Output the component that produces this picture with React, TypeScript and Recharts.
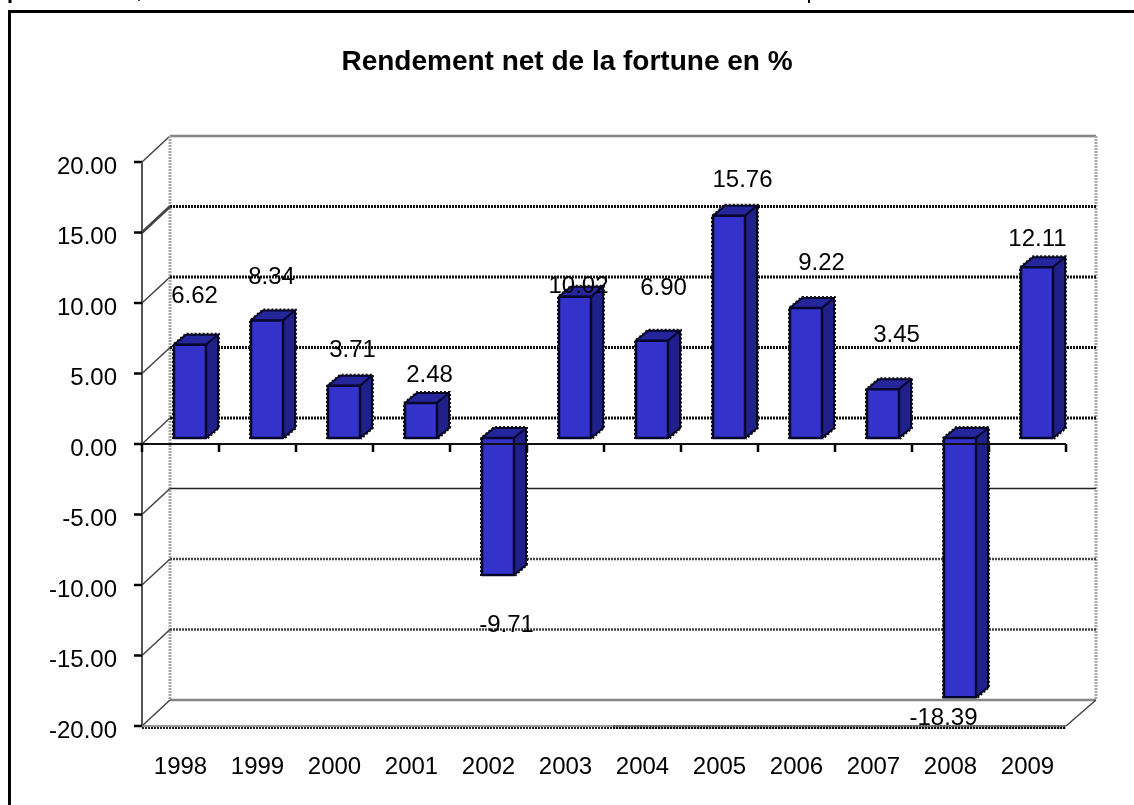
import React from 'react';
import { BarChart, Bar, XAxis, YAxis, CartesianGrid, ReferenceLine, LabelList } from 'recharts';

const years = ['1998', '1999', '2000', '2001', '2002', '2003', '2004', '2005', '2006', '2007', '2008', '2009'];
const returns = [6.62, 8.34, 3.71, 2.48, -9.71, 10.02, 6.9, 15.76, 9.22, 3.45, -18.39, 12.11];
const yTicks = [20, 15, 10, 5, 0, -5, -10, -15, -20];

const data = years.map((year, i) => ({ year, value: returns[i] }));

// pixel nudges for the labels, the source chart scatters them around the bars
const labelNudgeX = [13.5, 13.5, 17.5, 17.5, 17.5, 12.5, 20.5, 22.5, 24.5, 22.5, -7.5, 9.5];
const labelNudgeY = [-56, -51, -43, -36, 43, -18, -60, -43, -52, -62, 13, -36];

const FONT = '"Liberation Sans", Arial, sans-serif';

// depth of the fake 3D box
const WALL_DX = 28;
const WALL_DY = -26;
// bars sit halfway into the box
const BAR_DX = 9;
const BAR_DY = -6;
const SIDE_DX = 12;
const SIDE_DY = -10;

const wallStyle = { stroke: '#858585', strokeWidth: 2.5 };
const dottedDark = { stroke: '#111', strokeWidth: 3, strokeDasharray: '2 1' };
const solidDark = { stroke: '#222', strokeWidth: 1.5 };
const dottedGrey = { stroke: '#444', strokeWidth: 2.5, strokeDasharray: '2 1' };
const gridStyles = [wallStyle, dottedDark, dottedDark, dottedDark, dottedDark, solidDark, dottedGrey, dottedGrey, wallStyle];

// the whole box is drawn from the grid's lines: back wall, slanted side and the front axis
function gridLine(props: any) {
  const { x1, x2, y1, index, y, height } = props;
  const s = gridStyles[index] ?? wallStyle;
  const backX1 = x1 + WALL_DX;
  const backX2 = x2 + WALL_DX + 2;
  const backY = y1 + WALL_DY;
  const isFloor = index === gridStyles.length - 1;
  return (
    <g key={`grid-${index}`}>
      <line x1={backX1} x2={backX2} y1={backY} y2={backY} fill="none" {...s} />
      <line x1={x1} x2={backX1} y1={y1} y2={backY} fill="none" stroke="#444" strokeWidth={index === 1 ? 3 : 1.5} />
      <line x1={x1 - 8} x2={x1} y1={y1} y2={y1} stroke="#000" strokeWidth={2.5} />
      {index === 0 && (
        <>
          <line x1={x1} x2={x1} y1={y} y2={y + height} stroke="#555" strokeWidth={2} />
          <line x1={backX1} x2={backX1} y1={backY} y2={backY + height} stroke="#a8a8a8" strokeWidth={3} strokeDasharray="2 1" />
          <line x1={backX2} x2={backX2} y1={backY} y2={backY + height} stroke="#a8a8a8" strokeWidth={3} strokeDasharray="2 1" />
        </>
      )}
      {isFloor && (
        <>
          <line x1={x2} x2={backX2} y1={y1} y2={backY} stroke="#444" strokeWidth={1.5} />
          <line x1={x1} x2={x2} y1={y1 + 2} y2={y1 + 2} stroke="#222" strokeWidth={2} strokeDasharray="2 1" />
          <line x1={x1 + (x2 - x1) * 0.51} x2={x2} y1={y1 + 1} y2={y1 + 1} stroke="#000" strokeWidth={4} strokeDasharray="2 1" />
        </>
      )}
    </g>
  );
}

function ZeroLine(props: any) {
  const { x1, x2, y1 } = props;
  const step = (x2 - x1) / years.length;
  return (
    <g>
      <line x1={x1} x2={x2} y1={y1} y2={y1} stroke="#111" strokeWidth={2} />
      {[...years, ''].map((_, i) => (
        <line key={i} x1={x1 + i * step} x2={x1 + i * step} y1={y1} y2={y1 + 8} stroke="#000" strokeWidth={2.5} />
      ))}
    </g>
  );
}

function Bar3D(props: any) {
  const { x, y, width, height } = props;
  const top = Math.min(y, y + height) + BAR_DY;
  const bottom = Math.max(y, y + height) + BAR_DY;
  const left = x + BAR_DX;
  const right = left + width;
  const sx = SIDE_DX;
  const sy = SIDE_DY;
  const outline = `${left - 1},${bottom + 1} ${left - 1},${top} ${left + sx},${top + sy - 1} ${right + sx + 1},${top + sy - 1} ${right + sx + 1},${bottom + sy} ${right + 1},${bottom + 1}`;
  return (
    <g stroke="#05052e" strokeWidth={2} strokeLinejoin="round">
      <polygon points={`${left},${top} ${left + sx},${top + sy} ${right + sx},${top + sy} ${right},${top}`} fill="#26269c" />
      <polygon points={`${right},${top} ${right + sx},${top + sy} ${right + sx},${bottom + sy} ${right},${bottom}`} fill="#20208a" />
      <rect x={left} y={top} width={width} height={bottom - top} fill="#3333cc" stroke="#07072e" strokeWidth={2.5} />
      <polyline points={outline} fill="none" stroke="#111" strokeWidth={2} strokeDasharray="2 2" />
    </g>
  );
}

function BarLabel(props: any) {
  const { x, y, width, height, value, index } = props;
  const end = value >= 0 ? Math.min(y, y + height) : Math.max(y, y + height);
  return (
    <text
      x={x + width / 2 + labelNudgeX[index]}
      y={end + labelNudgeY[index]}
      textAnchor="middle"
      dominantBaseline="central"
      fontSize={24}
      fontFamily={FONT}
      fill="#000"
    >
      {value.toFixed(2)}
    </text>
  );
}

export default function App() {
  return (
    <div style={{ position: 'absolute', left: 0, top: 0, width: 1134, height: 805, overflow: 'hidden', background: '#fff', filter: 'blur(0.4px)' }}>
      {/* frame of the picture, only top and left are in view */}
      <div style={{ position: 'absolute', left: 8, top: 10, right: 0, bottom: 0, borderTop: '3px solid #000', borderLeft: '3px solid #000' }} />
      <BarChart
        width={1134}
        height={805}
        data={data}
        margin={{ top: 162, right: 68, bottom: 0, left: 0 }}
        barSize={32}
        style={{ position: 'absolute', left: 0, top: 0 }}
      >
        {/* ink specks left by the unreadable line cropped off above the picture */}
        <g stroke="#000">
          <line x1={10} x2={10} y1={0} y2={3} strokeWidth={3} />
          <line x1={139} x2={139} y1={0} y2={1} strokeWidth={1.5} />
          <line x1={809} x2={809} y1={0} y2={3} strokeWidth={2} />
        </g>
        <text x={567} y={60} textAnchor="middle" dominantBaseline="central" fontSize={28} fontWeight="bold" fontFamily={FONT} fill="#000">
          Rendement net de la fortune en %
        </text>
        <CartesianGrid horizontal={gridLine} vertical={false} horizontalValues={yTicks} />
        <XAxis
          dataKey="year"
          tickLine={false}
          axisLine={{ stroke: '#777', strokeWidth: 1.5 }}
          tickMargin={25}
          height={79}
          interval={0}
          tick={{ fontSize: 24, fontFamily: FONT, fill: '#000' }}
        />
        <YAxis
          width={142}
          domain={[-20, 20]}
          ticks={yTicks}
          tickFormatter={(v: number) => v.toFixed(2)}
          interval={0}
          axisLine={false}
          tickLine={false}
          tickSize={8}
          tickMargin={17}
          tick={{ fontSize: 24, fontFamily: FONT, fill: '#000', dy: 3 }}
        />
        <ReferenceLine y={0} shape={ZeroLine} />
        <Bar dataKey="value" shape={Bar3D} isAnimationActive={false}>
          <LabelList dataKey="value" content={BarLabel} />
        </Bar>
      </BarChart>
    </div>
  );
}
